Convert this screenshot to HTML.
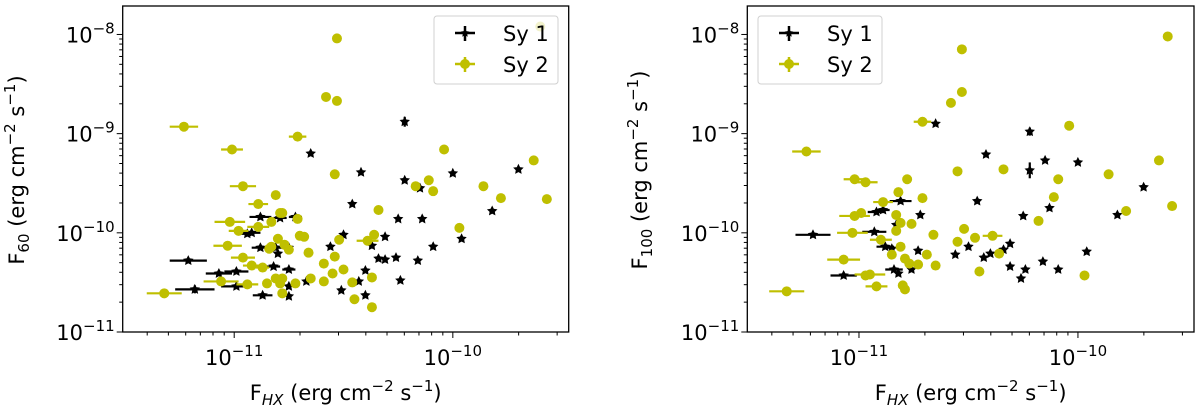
<!DOCTYPE html>
<html><head><meta charset="utf-8">
<style>
html,body{margin:0;padding:0;background:#fff;}
svg{display:block;font-family:"DejaVu Sans","Liberation Sans",sans-serif;}
</style></head>
<body>
<svg id="chart" width="1200" height="409" viewBox="0 0 1200 409" xmlns="http://www.w3.org/2000/svg"></svg>
<script>
// ---- data (log10 flux values) ----
const left_sy1_x = [-10.22,-10.65,-10.42,-10.00,-9.70,-10.22,-10.15,-10.46,-9.82,-10.25,-10.14,-10.88,-10.79,-10.72,-10.92,-10.94,-10.50,-10.31,-9.96,-10.37,-10.56,-10.88,-10.81,-10.75,-10.80,-10.09,-11.21,-10.26,-10.34,-10.31,-10.16,-10.99,-11.07,-10.82,-10.75,-10.40,-10.24,-10.43,-10.99,-10.75,-10.67,-11.18,-10.51,-10.87,-10.75,-10.40];
const left_sy1_y = [-8.88,-9.20,-9.39,-9.40,-9.36,-9.47,-9.55,-9.71,-9.78,-9.86,-9.86,-9.84,-9.85,-9.84,-10.00,-10.01,-10.02,-10.04,-10.06,-10.13,-10.14,-10.15,-10.15,-10.15,-10.21,-10.14,-10.28,-10.25,-10.26,-10.27,-10.28,-10.39,-10.41,-10.34,-10.37,-10.38,-10.48,-10.49,-10.54,-10.54,-10.49,-10.57,-10.58,-10.63,-10.64,-10.63];
const left_sy1_xerr = [0,0,0,0,0,0,0,0,0,0,0,0.05,0.03,0.03,0.04,0.03,0,0,0,0,0,0.04,0.03,0,0,0,0.085,0,0,0,0,0.055,0.06,0.03,0.03,0,0,0,0.07,0,0,0.09,0,0.045,0,0];
const left_sy1_yerr = [0.05,0,0,0,0,0,0,0,0,0,0,0,0,0,0,0,0,0,0,0,0,0,0,0,0,0,0,0,0,0,0,0,0,0,0,0,0,0,0,0,0,0.04,0,0,0,0];

const left_sy2_x = [-9.60,-10.53,-10.58,-10.53,-11.23,-10.71,-11.01,-10.04,-9.63,-10.54,-10.96,-10.17,-10.11,-10.09,-9.86,-9.78,-9.57,-10.81,-10.89,-10.34,-10.79,-10.78,-10.71,-10.83,-11.02,-10.89,-10.98,-9.97,-10.70,-10.68,-10.52,-10.36,-10.39,-11.03,-10.80,-10.83,-10.77,-10.75,-10.84,-10.66,-10.96,-10.54,-10.92,-10.87,-10.59,-10.50,-10.55,-10.81,-10.78,-10.65,-10.37,-10.59,-11.06,-10.94,-10.85,-10.79,-10.72,-10.46,-10.78,-11.32,-10.45,-10.37];
const left_sy2_y = [-7.92,-8.04,-8.63,-8.67,-8.93,-9.03,-9.16,-9.16,-9.27,-9.41,-9.53,-9.53,-9.47,-9.58,-9.53,-9.65,-9.66,-9.62,-9.71,-9.77,-9.80,-9.80,-9.86,-9.89,-9.89,-9.94,-9.98,-9.95,-10.03,-10.04,-10.07,-10.02,-10.08,-10.13,-10.06,-10.14,-10.12,-10.17,-10.16,-10.20,-10.25,-10.24,-10.33,-10.35,-10.31,-10.37,-10.41,-10.46,-10.46,-10.46,-10.45,-10.49,-10.49,-10.52,-10.51,-10.51,-10.51,-10.50,-10.61,-10.61,-10.67,-10.75];
const left_sy2_xerr = [0,0,0,0,0.065,0.04,0.05,0,0,0,0.06,0,0,0,0,0,0,0.02,0.045,0,0,0,0,0,0.07,0.05,0.045,0,0,0,0,0,0.05,0.065,0,0,0,0,0,0,0.055,0,0.04,0.03,0,0,0,0,0,0,0,0,0.08,0.05,0,0,0,0,0,0.08,0,0];

const right_sy1_x = [-10.65,-10.22,-10.42,-10.15,-10.00,-10.22,-10.46,-9.70,-10.81,-10.13,-10.89,-10.92,-10.72,-10.25,-9.82,-10.83,-10.93,-11.21,-10.88,-10.85,-10.73,-10.50,-10.31,-10.34,-10.40,-10.43,-10.56,-9.96,-10.16,-10.31,-10.24,-10.09,-10.26,-11.07,-10.84,-10.82,-10.76];
const right_sy1_y = [-8.90,-8.98,-9.21,-9.27,-9.29,-9.37,-9.68,-9.54,-9.68,-9.75,-9.77,-9.79,-9.82,-9.83,-9.82,-9.92,-9.99,-10.02,-10.14,-10.16,-10.18,-10.14,-10.11,-10.17,-10.21,-10.25,-10.22,-10.19,-10.29,-10.34,-10.37,-10.37,-10.46,-10.43,-10.37,-10.41,-10.37];
const right_sy1_xerr = [0,0,0,0,0,0,0,0,0.05,0,0.03,0.04,0,0,0,0,0.055,0.08,0.04,0,0,0,0,0,0,0,0,0,0,0,0,0,0,0.06,0.04,0,0];
const right_sy1_yerr = [0,0.04,0,0,0,0.08,0,0,0,0,0,0,0,0,0,0,0,0,0,0,0,0,0,0,0,0,0,0,0,0,0,0,0,0,0,0,0];

const right_sy2_x = [-9.59,-10.53,-10.53,-10.58,-10.71,-10.04,-11.24,-10.55,-10.34,-9.63,-9.86,-10.09,-10.78,-11.02,-10.97,-10.82,-10.11,-10.71,-10.89,-9.78,-9.57,-10.99,-11.02,-10.83,-10.81,-10.76,-10.18,-10.52,-11.03,-10.83,-10.66,-10.39,-10.47,-10.90,-10.55,-10.81,-10.85,-10.69,-10.36,-11.07,-10.79,-10.77,-10.73,-10.65,-10.45,-10.95,-10.97,-9.97,-10.92,-10.80,-10.79,-11.33];
const right_sy2_y = [-8.02,-8.15,-8.58,-8.69,-8.88,-8.92,-9.18,-9.38,-9.36,-9.27,-9.41,-9.46,-9.46,-9.46,-9.49,-9.59,-9.64,-9.65,-9.69,-9.78,-9.73,-9.80,-9.83,-9.82,-9.90,-9.91,-9.88,-9.96,-10.00,-9.98,-10.02,-10.03,-10.05,-10.07,-10.09,-10.14,-10.22,-10.22,-10.21,-10.27,-10.26,-10.31,-10.32,-10.33,-10.39,-10.42,-10.43,-10.43,-10.54,-10.53,-10.57,-10.59];
const right_sy2_xerr = [0,0,0,0,0.04,0,0.065,0,0,0,0,0,0,0.05,0.055,0,0,0,0.045,0,0,0,0.07,0,0,0,0,0,0.07,0,0,0.045,0,0.05,0,0,0,0,0,0.075,0,0,0,0,0,0.07,0,0,0.05,0,0,0.08];

const xTickLabels = ["−11","−10"];
const yTickLabels = ["−8","−9","−10","−11"];
const xTickValues = [-11,-10];
const yTickValues = [-8,-9,-10,-11];

// ---- drawing ----
const NS = "http://www.w3.org/2000/svg";
const svg = document.getElementById("chart");
const XMIN=-11.51, XMAX=-9.47, YMIN=-11, YMAX=-7.713;
const TOP=6, BOT=332;
const YELLOW="#bfbf00";
const FS=21, SFS=15;

function mk(tag, attrs, parent){
  const e=document.createElementNS(NS,tag);
  for(const k in attrs) e.setAttribute(k,attrs[k]);
  (parent||svg).appendChild(e);
  return e;
}
function star(cx,cy,R){
  const r=R*0.5, pts=[];
  for(let i=0;i<10;i++){
    const a=-Math.PI/2+i*Math.PI/5, rr=i%2?r:R;
    pts.push((cx+rr*Math.cos(a)).toFixed(1)+","+(cy+rr*Math.sin(a)).toFixed(1));
  }
  return pts.join(" ");
}

function panel(id, x0, x1, yTitleSub, sy1x, sy1y, sy1xe, sy1ye, sy2x, sy2y, sy2xe, legX, ytX){
  const g=mk("g",{});
  
  
  const sx=v=>x0+(v-XMIN)/(XMAX-XMIN)*(x1-x0);
  const sy=v=>BOT-(v-YMIN)/(YMAX-YMIN)*(BOT-TOP);

  const g1=mk("g",{},g);
  
  
  for(let i=0;i<sy1x.length;i++){
    const cx=sx(sy1x[i]), cy=sy(sy1y[i]);
    if(sy1xe[i]>0){
      const l=mk("line",{x1:sx(sy1x[i]-sy1xe[i]),x2:sx(sy1x[i]+sy1xe[i]),y1:cy,y2:cy,stroke:"#000","stroke-width":2.2},g1);
      
      
    }
    if(sy1ye[i]>0){
      const l=mk("line",{x1:cx,x2:cx,y1:sy(sy1y[i]-sy1ye[i]),y2:sy(sy1y[i]+sy1ye[i]),stroke:"#000","stroke-width":2.2},g1);
      
      
    }
    const p=mk("polygon",{points:star(cx,cy,4.6),fill:"#000",stroke:"#000","stroke-width":0.8},g1);
    
    
  }
  const g2=mk("g",{},g);
  
  
  for(let i=0;i<sy2x.length;i++){
    const cx=sx(sy2x[i]), cy=sy(sy2y[i]);
    if(sy2xe[i]>0){
      const l=mk("line",{x1:sx(sy2x[i]-sy2xe[i]),x2:sx(sy2x[i]+sy2xe[i]),y1:cy,y2:cy,stroke:YELLOW,"stroke-width":2.2},g2);
      
      
    }
    const c=mk("circle",{cx:cx,cy:cy,r:5,fill:YELLOW},g2);
    
    
  }

  const fr=mk("rect",{x:x0,y:TOP,width:x1-x0,height:BOT-TOP,fill:"none",stroke:"#000","stroke-width":1.3},g);
  
  

  const xa=mk("g",{},g);
  
  
  for(let d=-12; d<=-9; d++){
    for(let m=1;m<10;m++){
      const v=d+Math.log10(m);
      if(v<XMIN||v>XMAX) continue;
      const X=sx(v);
      mk("line",{x1:X,x2:X,y1:BOT,y2:BOT+(m===1?6:3.5),stroke:"#000","stroke-width":1},xa);
    }
  }
  xTickValues.forEach((v,i)=>{
    const t=mk("text",{x:sx(v),y:BOT+33,"font-size":FS,"text-anchor":"middle",fill:"#000"},xa);
    
    
    t.innerHTML='10<tspan dy="-9" font-size="'+SFS+'">'+xTickLabels[i]+'</tspan>';
  });
  const xt=mk("text",{x:(x0+x1)/2,y:400,"font-size":FS,"text-anchor":"middle",fill:"#000"},xa);
  
  
  xt.innerHTML='F<tspan dy="5" font-size="'+SFS+'" font-style="italic">HX</tspan><tspan dy="-5"> (erg cm</tspan><tspan dy="-9" font-size="'+SFS+'">−2</tspan><tspan dy="9"> s</tspan><tspan dy="-9" font-size="'+SFS+'">−1</tspan><tspan dy="9">)</tspan>';

  const ya=mk("g",{},g);
  
  
  for(let d=-11; d<=-8; d++){
    for(let m=1;m<10;m++){
      const v=d+Math.log10(m);
      if(v<YMIN||v>YMAX) continue;
      const Y=sy(v);
      mk("line",{x1:x0,x2:x0-(m===1?6:3.5),y1:Y,y2:Y,stroke:"#000","stroke-width":1},ya);
    }
  }
  yTickValues.forEach((v,i)=>{
    const t=mk("text",{x:x0-8,y:sy(v)+8,"font-size":FS,"text-anchor":"end",fill:"#000"},ya);
    
    
    t.innerHTML='10<tspan dy="-9" font-size="'+SFS+'">'+yTickLabels[i]+'</tspan>';
  });
  const yt=mk("text",{x:0,y:0,"font-size":FS,"text-anchor":"middle",fill:"#000",transform:"translate("+ytX+",170) rotate(-90)"},ya);
  
  
  yt.innerHTML='F<tspan dy="5" font-size="'+SFS+'">'+yTitleSub+'</tspan><tspan dy="-5"> (erg cm</tspan><tspan dy="-9" font-size="'+SFS+'">−2</tspan><tspan dy="9"> s</tspan><tspan dy="-9" font-size="'+SFS+'">−1</tspan><tspan dy="9">)</tspan>';

  const lg=mk("g",{},g);
  
  
  mk("rect",{x:legX,y:16,width:124,height:68,rx:3,fill:"rgba(255,255,255,0.8)",stroke:"#d0d0d0","stroke-width":1},lg);
  const mx=legX+31;
  const e1=mk("g",{},lg);
  
  
  mk("line",{x1:mx-10,x2:mx+10,y1:33,y2:33,stroke:"#000","stroke-width":2.5},e1);
  mk("line",{x1:mx,x2:mx,y1:26,y2:41,stroke:"#000","stroke-width":2.5},e1);
  mk("polygon",{points:star(mx,33,4.6),fill:"#000"},e1);
  const t1=mk("text",{x:legX+69,y:41,"font-size":FS,fill:"#000"},e1); t1.textContent="Sy 1";
  const e2=mk("g",{},lg);
  
  
  mk("line",{x1:mx-10,x2:mx+10,y1:64,y2:64,stroke:YELLOW,"stroke-width":2.5},e2);
  mk("line",{x1:mx,x2:mx,y1:57,y2:72,stroke:YELLOW,"stroke-width":2.5},e2);
  mk("circle",{cx:mx,cy:64,r:5,fill:YELLOW},e2);
  const t2=mk("text",{x:legX+69,y:72,"font-size":FS,fill:"#000"},e2); t2.textContent="Sy 2";
}

panel("left",122.7,568.7,"60",left_sy1_x,left_sy1_y,left_sy1_xerr,left_sy1_yerr,left_sy2_x,left_sy2_y,left_sy2_xerr,434,24);
panel("right",747.3,1194,"100",right_sy1_x,right_sy1_y,right_sy1_xerr,right_sy1_yerr,right_sy2_x,right_sy2_y,right_sy2_xerr,758,647);
</script>
</body></html>
